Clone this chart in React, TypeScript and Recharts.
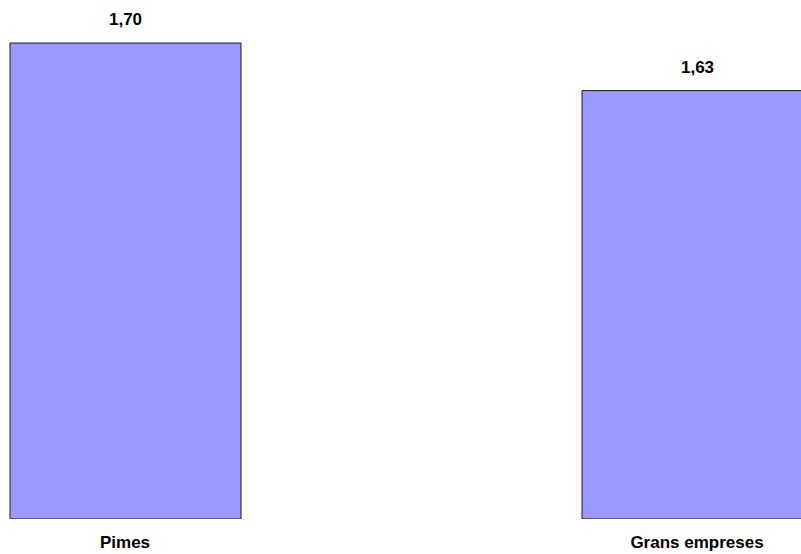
import React from 'react';
import { BarChart, Bar, XAxis, YAxis, LabelList } from 'recharts';

const categories = ['Pimes', 'Grans empreses'];
const values = [1.7, 1.63];

const data = categories.map((name, i) => ({ name, value: values[i] }));

const FONT = '"Liberation Sans", Arial, sans-serif';

const formatValue = (v: any) => Number(v).toFixed(2).replace('.', ',');

const CategoryTick = (props: any) => {
  const { x, y, payload } = props;
  return (
    <text x={x} y={y} dy={29} textAnchor="middle" fontFamily={FONT} fontSize={17} fontWeight="bold" fill="#000">
      {payload.value}
    </text>
  );
};

export default function App() {
  return (
    <div style={{ position: 'absolute', left: 0, top: 0, width: 801, height: 554, overflow: 'hidden', background: '#fff' }}>
      <div style={{ marginLeft: -161 }}>
        <BarChart width={1144} height={554} data={data} margin={{ top: 9, right: 0, bottom: 0, left: 0 }}>
          <XAxis
            dataKey="name"
            axisLine={false}
            tickLine={false}
            tickSize={0}
            tickMargin={0}
            height={35}
            interval={0}
            tick={<CategoryTick />}
          />
          <YAxis hide domain={[1, 1.75]} allowDataOverflow />
          <Bar dataKey="value" fill="#9999FF" stroke="#1a1a1a" strokeWidth={1} barSize={231} isAnimationActive={false}>
            <LabelList
              dataKey="value"
              position="top"
              offset={18}
              formatter={formatValue}
              style={{ fontFamily: FONT, fontSize: 17, fontWeight: 'bold', fill: '#000' }}
            />
          </Bar>
        </BarChart>
      </div>
    </div>
  );
}
